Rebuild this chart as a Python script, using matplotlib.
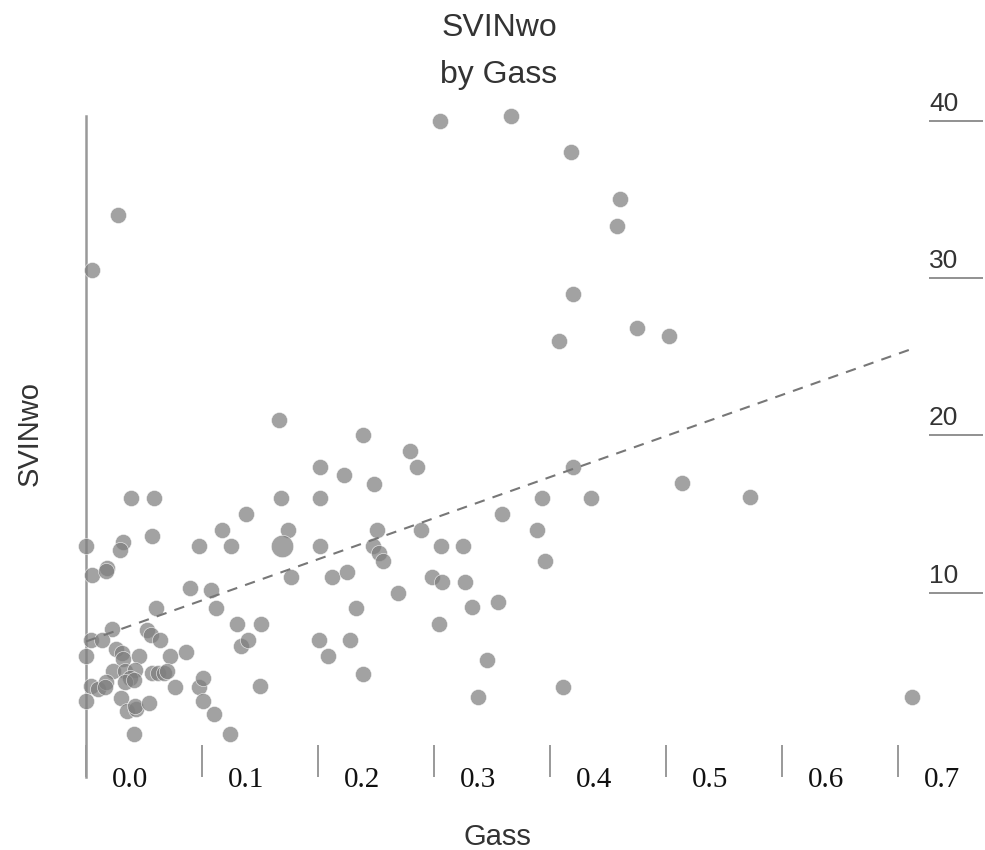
import matplotlib
matplotlib.use("Agg")
import matplotlib.pyplot as plt
from matplotlib.transforms import ScaledTranslation

# data
gass = [
    0.305, 0.366, 0.418, 0.460, 0.458, 0.420, 0.408, 0.475, 0.503,
    0.028, 0.0055, 0.166, 0.514, 0.572, 0.712,
    0.239, 0.279, 0.285, 0.202, 0.222, 0.248, 0.202, 0.251, 0.289, 0.202,
    0.247, 0.253, 0.256, 0.306, 0.325, 0.359, 0.393, 0.420, 0.435, 0.389,
    0.396, 0.298, 0.307, 0.327, 0.269, 0.333, 0.355, 0.304, 0.346, 0.338,
    0.411,
    0.039, 0.059, 0.0, 0.032, 0.029, 0.057, 0.005, 0.018, 0.017, 0.097,
    0.117, 0.125, 0.138, 0.168, 0.174, 0.177, 0.212, 0.225, 0.233, 0.201,
    0.228, 0.209, 0.239, 0.150, 0.090, 0.108, 0.112, 0.130, 0.151, 0.134,
    0.140, 0.060, 0.022, 0.004, 0.014, 0.0, 0.053, 0.056, 0.064, 0.026,
    0.031, 0.032, 0.046, 0.072, 0.086, 0.023, 0.034, 0.042, 0.038, 0.034,
    0.041, 0.057, 0.062, 0.067, 0.070, 0.004, 0.010, 0.017, 0.016, 0.077,
    0.097, 0.101, 0.101, 0.0, 0.030, 0.035, 0.043, 0.042, 0.054, 0.110,
    0.041, 0.124,
]
svinwo = [
    40.0, 40.3, 38.0, 35.0, 33.3, 29.0, 26.0, 26.8, 26.3,
    34.0, 30.5, 21.0, 17.0, 16.1, 3.4,
    20.0, 19.0, 18.0, 18.0, 17.5, 16.9, 16.0, 14.0, 14.0, 13.0,
    13.0, 12.5, 12.0, 13.0, 13.0, 15.0, 16.0, 18.0, 16.0, 14.0,
    12.0, 11.0, 10.7, 10.7, 10.0, 9.1, 9.4, 8.0, 5.7, 3.4,
    4.0,
    16.0, 16.0, 13.0, 13.2, 12.7, 13.6, 11.1, 11.6, 11.4, 13.0,
    14.0, 13.0, 15.0, 16.0, 14.0, 11.0, 11.0, 11.3, 9.0, 7.0,
    7.0, 6.0, 4.8, 4.1, 10.3, 10.2, 9.0, 8.0, 8.0, 6.6,
    7.0, 9.0, 7.7, 7.0, 7.0, 6.0, 7.6, 7.3, 7.0, 6.4,
    6.15, 5.8, 6.0, 6.0, 6.2, 5.0, 5.0, 5.1, 4.6, 4.3,
    4.45, 4.9, 4.9, 4.9, 5.0, 4.1, 3.9, 4.3, 4.0, 4.0,
    4.0, 4.6, 3.1, 3.1, 3.3, 2.5, 2.6, 2.8, 3.0, 2.3,
    1.0, 1.0,
]
big_gass = [0.169]
big_svinwo = [13.0]

trend_x = [0.0, 0.712]
trend_y = [6.9, 25.5]

x_ticks = [0.0, 0.1, 0.2, 0.3, 0.4, 0.5, 0.6, 0.7]
x_labels = ["0.0", "0.1", "0.2", "0.3", "0.4", "0.5", "0.6", "0.7"]
y_ticks = [10, 20, 30, 40]
y_labels = ["10", "20", "30", "40"]

W, H = 985, 850
fig = plt.figure(figsize=(W / 100, H / 100), dpi=100)
ax = fig.add_axes([86 / W, (H - 777) / H, (929 - 86) / W, (777 - 116) / H])
ax.set_xlim(0, (929 - 86) / 1160)
ax.set_ylim((750 - 777) / 15.73, (750 - 116) / 15.73)

# points
ax.scatter(gass, svinwo, s=135, color="#7f7f7f", alpha=0.72,
           edgecolors="white", linewidths=0.5, zorder=3, clip_on=False)
ax.scatter(big_gass, big_svinwo, s=260, color="#7f7f7f", alpha=0.72,
           edgecolors="white", linewidths=0.5, zorder=3, clip_on=False)

# trend line
ax.plot(trend_x, trend_y, color="#777777", lw=1.5, linestyle=(0, (5, 4)),
        zorder=4)

# spines
for side in ["top", "right", "bottom"]:
    ax.spines[side].set_visible(False)
ax.spines["left"].set_color("#999999")
ax.spines["left"].set_linewidth(1.8)

# x ticks (marks pointing up, labels shifted right of the marks)
ax.set_xticks(x_ticks, labels=[])
ax.tick_params(axis="x", direction="in", length=23, width=1.4, color="#999999")
off_x = ScaledTranslation(44 / 100, -10 / 100, fig.dpi_scale_trans)
for v, lab in zip(x_ticks, x_labels):
    ax.text(v, 0, lab, transform=ax.get_xaxis_transform() + off_x,
            ha="center", va="baseline", fontsize=21,
            fontfamily="Liberation Serif", color="#111111")

# y ticks on the right as short underlines, labels sitting on them
ax.yaxis.tick_right()
ax.set_yticks(y_ticks, labels=[])
ax.tick_params(axis="y", direction="out", length=39, width=1.3,
               color="#888888")
off_y = ScaledTranslation(0, 10 / 100, fig.dpi_scale_trans)
for v, lab in zip(y_ticks, y_labels):
    ax.text(1, v, lab, transform=ax.get_yaxis_transform() + off_y,
            ha="left", va="baseline", fontsize=19,
            fontfamily="Liberation Sans", color="#333333")

# titles and axis labels
fig.text(499 / W, 1 - 36 / H, "SVINwo", ha="center", va="baseline",
         fontsize=23, fontfamily="Liberation Sans", color="#333333")
fig.text(499 / W, 1 - 83 / H, "by Gass", ha="center", va="baseline",
         fontsize=23, fontfamily="Liberation Sans", color="#333333")
fig.text(30 / W, 1 - 433 / H, "SVINwo", rotation=90, ha="center",
         va="center", fontsize=21, fontfamily="Liberation Sans",
         color="#333333")
fig.text(497 / W, 1 - 845 / H, "Gass", ha="center", va="baseline",
         fontsize=21, fontfamily="Liberation Sans", color="#333333")

fig.savefig("out.png", dpi=100)
